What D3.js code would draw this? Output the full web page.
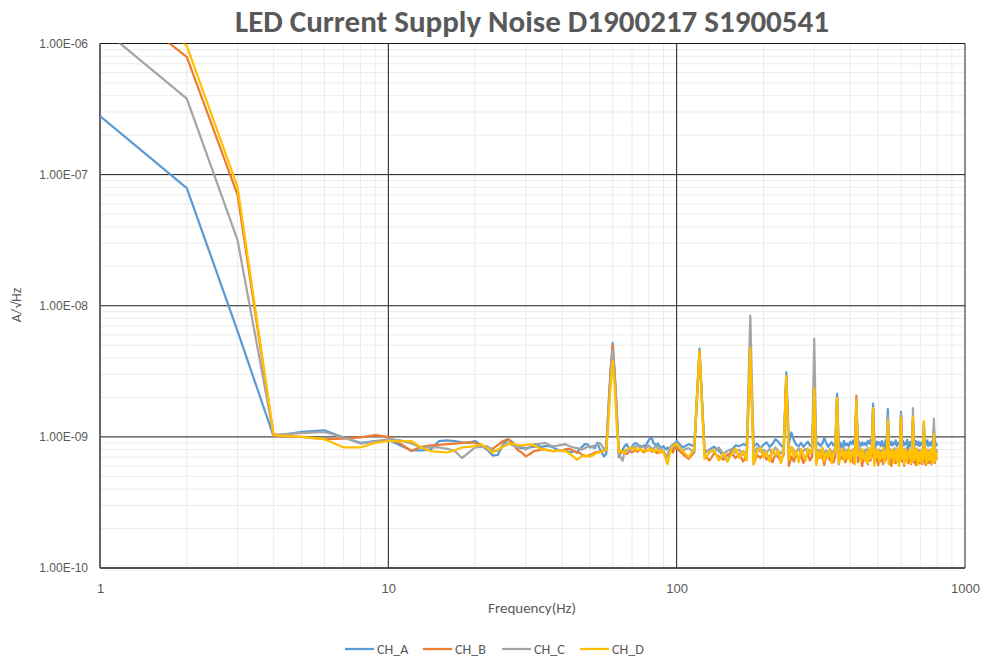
<!DOCTYPE html>
<html>
<head>
<meta charset="utf-8">
<script src="https://cdn.jsdelivr.net/npm/d3@7"></script>
<style>
  body { margin: 0; background: #fff; }
  svg { display: block; font-family: Calibri, Carlito, Lato, "Liberation Sans", sans-serif; }
</style>
</head>
<body>
<svg id="chart" width="982" height="662"></svg>
<script>
const width = 982;
const height = 662;

// sample frequencies (Hz): 1 Hz steps up to 100, 5 Hz steps above
const freq = [...d3.range(1, 101), ...d3.range(105, 801, 5)];

// values in units of 1e-10 A/rtHz
const chA = [
  2800, 790, 64, 10.1, 10.9, 11.2, 9.9, 9.0, 9.3, 9.5,
  8.6, 7.9, 7.9, 8.0, 9.3, 9.4, 9.3, 9.1, 9.0, 9.3,
  8.6, 8.0, 7.2, 7.3, 8.8, 9.6, 9.1, 8.3, 8.2, 8.2,
  8.3, 8.4, 8.5, 8.4, 8.5, 8.5, 8.4, 8.1, 7.9, 7.8,
  8.0, 7.7, 7.6, 7.8, 7.6, 8.0, 8.4, 8.8, 8.8, 8.3,
  8.5, 8.2, 9.0, 8.2, 7.6, 7.1, 7.4, 17, 32, 52,
  30, 16, 7.0, 7.6, 8.0, 8.5, 8.8, 8.3, 8.0, 8.4,
  8.8, 9.0, 8.8, 8.6, 8.5, 8.4, 8.6, 8.5, 9.0, 9.4,
  9.8, 9.8, 9.0, 8.8, 8.6, 8.9, 8.5, 8.4, 8.3, 8.5,
  8.2, 8.0, 8.3, 8.1, 7.9, 8.3, 8.0, 8.8, 9.0, 9.3,
  8.3, 8.8, 8.5, 47, 7.6, 8.0, 8.4, 7.8, 7.2, 6.5,
  7.9, 8.6, 8.5, 8.8, 8.6, 45, 8.4, 8.9, 8.2, 8.7,
  9.1, 8.4, 8.8, 9.6, 9.2, 8.6, 8.3, 31, 8.9, 10.8,
  9.4, 8.7, 8.5, 9.0, 8.4, 8.8, 9.2, 8.6, 8.3, 24,
  8.7, 9.0, 8.5, 8.9, 9.8, 9.0, 8.4, 8.8, 9.1, 8.6,
  8.9, 21.3, 8.4, 9.0, 7.7, 9.3, 8.6, 8.9, 8.5, 9.2,
  8.8, 9.4, 8.6, 19, 9.6, 8.9, 8.5, 9.1, 8.7, 9.0,
  8.6, 9.3, 8.9, 9.5, 8.7, 17.9, 9.0, 8.4, 9.2, 8.8,
  9.1, 8.5, 9.3, 8.9, 7.6, 9.4, 8.8, 16.3, 9.0, 8.7,
  9.2, 8.6, 9.0, 8.8, 9.4, 8.5, 8.9, 9.1, 8.7, 15.5,
  8.9, 9.3, 8.6, 9.0, 8.8, 9.5, 7.8, 9.1, 8.5, 9.2,
  8.8, 14, 9.0, 8.6, 9.3, 8.9, 8.7, 9.2, 8.5, 9.0,
  8.7, 9.1, 8.9, 13, 8.6, 9.2, 8.8, 9.4, 8.5, 9.0,
  8.9, 8.6, 9.2, 8.7, 9.0, 12, 8.8, 9.1, 8.6, 8.9
];
const chB = [
  26000, 7900, 700, 10.2, 10.0, 9.6, 9.7, 9.9, 10.3, 10.0,
  8.9, 7.8, 8.4, 8.6, 8.7, 8.8, 8.9, 9.0, 9.1, 9.0,
  8.6, 8.3, 8.1, 8.7, 9.3, 9.6, 8.9, 8.0, 7.6, 7.1,
  7.4, 7.8, 7.9, 8.0, 8.0, 7.9, 7.8, 7.8, 7.9, 7.8,
  8.0, 8.1, 8.0, 7.8, 7.6, 7.6, 7.3, 7.2, 7.1, 7.3,
  7.4, 7.6, 7.7, 7.7, 7.8, 7.8, 8.0, 16, 31, 50,
  29, 15, 7.8, 7.6, 7.8, 7.6, 7.4, 7.6, 7.8, 7.6,
  7.8, 8.0, 7.7, 7.9, 8.1, 7.8, 7.6, 8.0, 7.8, 7.9,
  8.1, 7.7, 7.8, 7.9, 7.6, 7.5, 7.8, 7.6, 7.7, 7.8,
  7.4, 7.1, 7.2, 7.6, 7.8, 7.9, 7.6, 8.1, 8.4, 8.2,
  7.4, 6.8, 7.6, 45, 7.2, 6.6, 7.5, 7.1, 6.7, 7.3,
  7.6, 6.9, 7.4, 6.5, 7.2, 44, 6.2, 7.3, 6.9, 7.5,
  6.7, 7.2, 6.4, 7.4, 7.0, 6.6, 7.3, 29, 6.0, 7.1,
  6.5, 7.4, 6.8, 7.2, 6.3, 7.0, 7.3, 6.6, 7.1, 23,
  6.3, 7.2, 6.9, 7.3, 6.1, 7.0, 7.2, 6.6, 7.4, 6.4,
  7.1, 20, 6.2, 7.2, 6.8, 7.3, 6.4, 7.0, 7.4, 6.5,
  7.2, 6.3, 7.0, 20.6, 6.4, 7.3, 6.8, 6.0, 7.1, 6.6,
  7.0, 6.2, 7.3, 6.6, 7.1, 16, 6.3, 7.2, 6.8, 6.1,
  7.1, 6.5, 7.3, 6.2, 7.0, 6.6, 7.2, 14, 6.2, 7.0,
  6.0, 7.1, 6.6, 7.2, 6.3, 6.9, 7.3, 6.4, 7.0, 14.5,
  6.5, 7.2, 6.0, 7.0, 6.7, 7.3, 6.3, 7.1, 6.6, 6.2,
  7.2, 13, 6.4, 7.0, 6.1, 7.1, 6.6, 7.3, 6.3, 6.9,
  7.0, 6.2, 7.2, 12, 6.5, 6.1, 7.1, 6.7, 6.3, 7.2,
  6.4, 7.0, 6.2, 7.1, 6.6, 11, 6.3, 7.2, 6.7, 7.0
];
const chC = [
  13400, 3800, 316, 10.4, 10.7, 10.9, 9.9, 8.9, 9.2, 9.6,
  9.4, 8.9, 8.3, 8.3, 8.3, 8.1, 7.8, 6.9, 7.6, 8.3,
  8.4, 8.5, 7.9, 7.8, 8.7, 9.0, 8.6, 8.4, 8.5, 8.0,
  8.4, 8.8, 8.8, 8.9, 9.0, 8.7, 8.5, 8.5, 8.6, 8.7,
  8.8, 8.6, 8.4, 8.3, 8.2, 8.1, 8.0, 8.2, 8.4, 8.5,
  8.3, 8.6, 8.7, 9.0, 8.6, 8.0, 8.4, 15, 30, 46,
  28, 14, 7.5, 6.9, 6.6, 7.8, 8.0, 7.6, 8.1, 8.3,
  8.5, 8.3, 8.6, 8.4, 8.2, 8.5, 8.3, 8.1, 8.4, 8.6,
  8.3, 8.2, 8.0, 8.4, 8.5, 8.2, 8.0, 8.3, 8.1, 7.8,
  7.2, 6.9, 7.3, 7.9, 8.3, 8.6, 8.8, 8.6, 8.9, 8.5,
  7.9, 8.2, 7.6, 44, 7.5, 8.0, 7.7, 8.3, 7.4, 7.8,
  8.1, 7.6, 8.0, 7.3, 7.9, 84, 7.5, 8.2, 7.7, 8.0,
  7.6, 8.1, 7.4, 8.3, 7.8, 7.5, 8.0, 28, 7.2, 8.4,
  7.9, 7.6, 8.2, 7.4, 7.8, 8.1, 7.5, 7.9, 7.7, 56,
  7.4, 8.0, 7.7, 8.2, 7.5, 7.9, 7.3, 8.1, 7.6, 7.8,
  8.2, 20, 7.5, 7.9, 7.7, 8.3, 7.4, 8.0, 7.6, 7.9,
  7.7, 8.1, 7.4, 19, 7.8, 8.2, 7.5, 7.9, 7.3, 8.0,
  7.6, 8.2, 7.5, 7.9, 7.7, 16.5, 7.4, 8.1, 7.8, 7.5,
  8.0, 7.4, 7.9, 7.6, 8.2, 7.5, 7.8, 14.5, 7.7, 8.1,
  7.5, 7.9, 7.6, 8.2, 7.4, 8.0, 7.7, 7.5, 8.1, 15,
  7.8, 7.4, 8.0, 7.6, 8.2, 7.5, 7.9, 7.3, 8.0, 7.7,
  7.5, 16.6, 7.8, 8.1, 7.4, 7.9, 7.6, 8.0, 7.5, 7.8,
  8.0, 7.6, 7.9, 12.5, 7.5, 8.1, 7.7, 7.4, 8.0, 7.6,
  7.8, 7.5, 8.1, 7.7, 7.4, 13.8, 7.9, 7.6, 8.0, 7.5
];
const chD = [
  37000, 9600, 807, 10.3, 10.0, 9.6, 8.3, 8.3, 9.0, 9.3,
  9.3, 9.3, 8.3, 7.8, 7.7, 7.6, 7.9, 8.3, 8.4, 8.5,
  8.8, 8.2, 7.6, 8.0, 8.4, 8.8, 8.9, 8.7, 8.6, 8.7,
  8.8, 8.6, 8.3, 8.1, 8.0, 7.9, 7.8, 7.8, 7.9, 7.8,
  7.8, 7.6, 7.3, 7.0, 6.7, 6.9, 7.2, 7.1, 7.2, 7.1,
  7.2, 7.4, 7.6, 7.6, 7.7, 7.8, 8.0, 13, 25, 38,
  24, 12, 7.6, 7.9, 7.7, 7.5, 7.9, 8.1, 8.3, 8.2,
  8.0, 8.2, 7.9, 8.0, 8.1, 7.7, 7.9, 8.0, 7.8, 8.0,
  7.9, 8.1, 7.7, 7.8, 8.0, 7.9, 7.6, 7.8, 7.9, 7.5,
  7.2, 6.6, 6.2, 7.0, 7.6, 8.2, 8.5, 8.6, 8.7, 8.9,
  7.8, 7.0, 8.1, 45, 6.8, 7.6, 8.0, 6.6, 7.5, 6.5,
  7.4, 8.2, 6.9, 7.8, 6.6, 47.5, 6.2, 7.7, 8.3, 7.0,
  7.6, 6.5, 8.0, 7.3, 7.9, 6.3, 7.8, 29, 6.7, 8.4,
  7.0, 7.9, 6.4, 8.1, 7.3, 6.6, 8.2, 7.4, 7.8, 23.5,
  6.1, 7.7, 6.9, 8.3, 6.5, 7.6, 7.0, 8.0, 6.3, 7.5,
  7.9, 19.7, 6.3, 7.4, 8.1, 6.6, 7.7, 6.8, 8.2, 6.4,
  7.5, 8.0, 6.2, 19, 7.2, 7.8, 6.5, 8.1, 7.0, 6.6,
  7.7, 6.3, 8.2, 6.8, 7.6, 16.6, 6.0, 7.9, 7.0, 8.0,
  6.5, 7.5, 6.9, 8.3, 6.4, 7.6, 7.1, 13.3, 6.2, 7.8,
  7.0, 8.0, 6.3, 7.4, 7.9, 6.6, 8.2, 6.0, 7.6, 13.9,
  6.8, 7.8, 6.2, 8.1, 7.1, 6.5, 7.7, 7.0, 8.0, 6.3,
  7.5, 14.3, 6.6, 7.8, 6.9, 8.2, 6.1, 7.6, 7.1, 6.5,
  7.9, 6.4, 7.4, 13.2, 6.8, 7.7, 6.2, 8.0, 7.0, 6.6,
  7.6, 6.8, 8.1, 6.3, 7.5, 10.5, 6.5, 7.8, 6.8, 7.4
];

const seriesNames = ['CH_A', 'CH_B', 'CH_C', 'CH_D'];
const seriesValues = [chA, chB, chC, chD];
const colors = ['#5B9BD5', '#ED7D31', '#A5A5A5', '#FFC000'];

const xTicks = [1, 10, 100, 1000];
const yTicks = [1e-10, 1e-9, 1e-8, 1e-7, 1e-6];
const yTickLabels = ['1.00E-10', '1.00E-09', '1.00E-08', '1.00E-07', '1.00E-06'];

const plot = { left: 100, top: 43.5, right: 965, bottom: 568 };

const x = d3.scaleLog().domain([1, 1000]).range([plot.left, plot.right]);
const y = d3.scaleLog().domain([1e-10, 1e-6]).range([plot.bottom, plot.top]);

const svg = d3.select('#chart');
const textColor = '#595959';

// minor grid
const minorX = [];
const minorY = [];
[1, 10, 100].forEach(d => d3.range(2, 10).forEach(k => minorX.push(d * k)));
[1e-10, 1e-9, 1e-8, 1e-7].forEach(d => d3.range(2, 10).forEach(k => minorY.push(d * k)));

svg.append('g').selectAll('line').data(minorX).enter().append('line')
    .attr('x1', d => x(d)).attr('x2', d => x(d))
    .attr('y1', plot.top).attr('y2', plot.bottom)
    .attr('stroke', '#ececec').attr('stroke-width', 1);
svg.append('g').selectAll('line').data(minorY).enter().append('line')
    .attr('y1', d => y(d)).attr('y2', d => y(d))
    .attr('x1', plot.left).attr('x2', plot.right)
    .attr('stroke', '#ececec').attr('stroke-width', 1);

// major grid
svg.append('g').selectAll('line').data(xTicks).enter().append('line')
    .attr('x1', d => x(d)).attr('x2', d => x(d))
    .attr('y1', plot.top).attr('y2', plot.bottom)
    .attr('stroke', '#1a1a1a').attr('stroke-width', 1);
svg.append('g').selectAll('line').data(yTicks).enter().append('line')
    .attr('y1', d => y(d)).attr('y2', d => y(d))
    .attr('x1', plot.left).attr('x2', plot.right)
    .attr('stroke', '#1a1a1a').attr('stroke-width', 1);

svg.append('line')
    .attr('x1', plot.left).attr('x2', plot.left)
    .attr('y1', plot.top).attr('y2', plot.bottom)
    .attr('stroke', '#595959').attr('stroke-width', 1.5);
svg.append('line')
    .attr('x1', plot.left).attr('x2', plot.right)
    .attr('y1', plot.bottom).attr('y2', plot.bottom)
    .attr('stroke', '#404040').attr('stroke-width', 1.5);

// data lines
svg.append('clipPath').attr('id', 'clip')
  .append('rect')
    .attr('x', plot.left).attr('y', plot.top)
    .attr('width', plot.right - plot.left).attr('height', plot.bottom - plot.top);

const line = d3.line()
    .x((d, i) => x(freq[i]))
    .y(d => y(d * 1e-10));

svg.append('g').attr('clip-path', 'url(#clip)')
  .selectAll('path').data(seriesValues).enter().append('path')
    .attr('d', d => line(d))
    .attr('fill', 'none')
    .attr('stroke', (d, i) => colors[i])
    .attr('stroke-width', 2.25)
    .attr('stroke-linejoin', 'round');

// axes
const yAxis = d3.axisLeft(y).tickValues(yTicks)
    .tickFormat((d, i) => yTickLabels[i]).tickSize(0).tickPadding(12);
const yg = svg.append('g').attr('transform', `translate(${plot.left},0)`).call(yAxis);
yg.select('.domain').remove();
yg.selectAll('text').attr('fill', textColor).style('font-size', '12px');

const xAxis = d3.axisBottom(x).tickValues(xTicks)
    .tickFormat(d3.format('d')).tickSize(0).tickPadding(16);
const xg = svg.append('g').attr('transform', `translate(0,${plot.bottom})`).call(xAxis);
xg.select('.domain').remove();
xg.selectAll('text').attr('fill', textColor).style('font-size', '13px');

// titles
svg.append('text')
    .attr('x', 532).attr('y', 32)
    .attr('text-anchor', 'middle')
    .attr('fill', textColor)
    .style('font-size', '31px').style('font-weight', 'bold')
    .text('LED Current Supply Noise D1900217 S1900541');

svg.append('text')
    .attr('x', 532).attr('y', 613)
    .attr('text-anchor', 'middle')
    .attr('fill', textColor)
    .style('font-size', '15px')
    .text('Frequency(Hz)');

svg.append('text')
    .attr('transform', 'translate(21,305) rotate(-90)')
    .attr('text-anchor', 'middle')
    .attr('fill', textColor)
    .style('font-size', '14px')
    .text('A/√Hz');

// legend
const legendX = [345, 423, 502, 580];
const legend = svg.append('g').selectAll('g').data(seriesNames).enter().append('g')
    .attr('transform', (d, i) => `translate(${legendX[i]},649)`);
legend.append('line')
    .attr('x1', 0).attr('x2', 29)
    .attr('stroke', (d, i) => colors[i]).attr('stroke-width', 2.25);
legend.append('text')
    .attr('x', 32).attr('dy', '0.35em')
    .attr('fill', textColor)
    .style('font-size', '14px')
    .text(d => d);
</script>
</body>
</html>
